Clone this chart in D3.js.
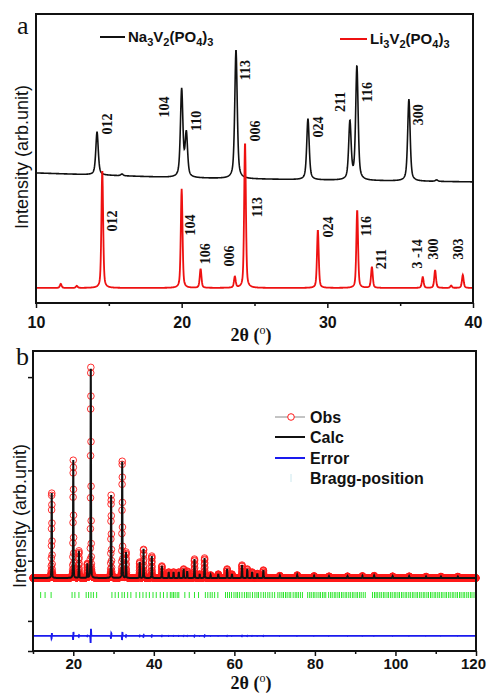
<!DOCTYPE html>
<html>
<head>
<meta charset="utf-8">
<script src="https://cdn.jsdelivr.net/npm/d3@7/dist/d3.min.js"></script>
<style>
body { margin: 0; background: #fff; }
svg { font-family: "Liberation Sans", Arial, sans-serif; }
</style>
</head>
<body>
<div id="chart"></div>
<script>
// ---- panel a : XRD patterns ----
var naPos = [14.19, 15.9, 20.0, 20.32, 23.73, 28.67, 31.55, 32.03, 35.6, 37.5];
var naInt = [149, 6, 304, 150, 446, 211, 200, 394, 284, 5];
var naBgPos = [10, 20, 30, 40];
var naBg = [450, 433, 425, 419];

var liPos = [11.7, 12.8, 14.55, 20.0, 21.3, 23.65, 24.35, 29.35, 32.05, 33.06, 36.55, 37.4, 38.5, 39.3];
var liInt = [14, 7, 408, 343, 66, 38, 505, 201, 270, 73, 38, 62, 8, 45];
var liBg = 52;

var naLabels = ["012", "104", "110", "113", "006", "024", "211", "116", "300"];
var naLabelX = [14.87, 18.79, 20.98, 24.34, 25.03, 29.35, 30.86, 32.72, 36.22];
var naLabelY = [619, 678, 630, 806, 595, 609, 696, 730, 651];

var liLabels = ["012", "104", "106", "006", "113", "024", "116", "211", "3 -14", "300", "303"];
var liLabelX = [15.22, 20.57, 21.6, 23.25, 25.17, 30.04, 32.65, 33.68, 36.15, 37.25, 38.96];
var liLabelY = [284, 270, 170, 163, 332, 263, 266, 152, 170, 187, 187];

// ---- panel b : Rietveld refinement ----
var refPos = [14.65, 20.0, 21.4, 23.5, 24.35, 29.4, 32.15, 33.1, 36.5, 37.45, 39.5, 42.0, 43.7, 44.9,
  46.2, 47.4, 48.3, 50.1, 51.4, 52.6, 54.1, 56.0, 58.2, 59.4, 61.9, 63.2, 64.4, 65.7, 67.2, 71.3,
  75.6, 79.8, 83.5, 88.1, 91.8, 94.7, 99.3, 103.4, 107.6, 111.3, 115.5];
var refInt = [2850, 3920, 900, 470, 7075, 2755, 3920, 860, 530, 960, 730, 400, 200, 200,
  200, 300, 230, 630, 130, 665, 100, 130, 300, 130, 430, 300, 200, 150, 265, 80,
  100, 70, 60, 60, 70, 80, 60, 60, 50, 50, 50];
var refBg = 1425;
var errBase = -500;

var braggPos = [11.9, 13.0, 14.5, 19.7, 20.4, 21.4, 23.2, 23.8, 24.4, 25.0, 25.8, 29.6, 30.4, 31.2,
  32.1, 32.7, 33.5, 34.3, 35.6, 36.5, 37.3, 38.1, 38.9, 39.8, 40.6, 41.6, 42.4, 43.3, 44.1, 44.5,
  44.9, 45.3, 45.8, 46.2, 47.7, 48.8, 50.1, 51.1, 52.8, 53.4, 54.0, 54.5, 55.1, 55.9, 57.8, 58.3,
  58.8, 59.3, 59.9, 60.4, 60.8, 61.3, 61.9, 62.5, 63.0, 63.4, 63.9, 64.5, 65.1, 65.6, 66.0, 66.6,
  67.2, 67.7, 68.3, 68.8, 69.4, 70.0, 70.8, 71.3, 71.8, 72.2, 72.7, 73.1, 73.6, 74.0, 74.6, 75.1,
  75.5, 75.9, 76.4, 76.9, 78.2, 78.7, 79.1, 79.6, 80.0, 80.5, 81.0, 81.4, 81.9, 82.3, 82.7, 83.4,
  83.9, 84.3, 84.8, 85.2, 85.7, 86.1, 86.6, 87.0, 87.5, 87.9, 88.4, 88.8, 89.3, 89.7, 90.2, 90.6,
  91.1, 91.5, 92.0, 92.5, 94.3, 94.8, 95.2, 95.6, 96.1, 96.5, 97.0, 97.4, 97.9, 98.3, 98.8, 99.2,
  99.7, 100.1, 100.6, 101.0, 101.5, 101.9, 102.4, 102.8, 103.3, 103.7, 104.2, 104.6, 105.1, 105.5,
  106.0, 106.4, 106.9, 107.3, 107.8, 108.2, 108.7, 109.1, 109.6, 110.0, 110.5, 110.9, 111.4, 111.8,
  112.3, 112.7, 113.2, 113.6, 114.1, 114.5, 115.0, 115.4, 115.9, 116.3, 116.8, 117.2, 117.7, 118.1,
  118.6, 119.0, 119.5, 119.9];
var braggLow = 760, braggHigh = 960;

var yTicksB = [-1000, 0, 2000, 3000, 5000, 8100];

var svgWidth = 487;
var svgHeight = 694;
var serif = "'Liberation Serif', 'Times New Roman', serif";

var svg = d3.select("#chart")
  .append("svg")
  .attr("width", svgWidth)
  .attr("height", svgHeight);

// pseudo-Voigt peak of unit height
function pv(dx, fwhm, eta) {
  var g = Math.exp(-4 * Math.LN2 * dx * dx / (fwhm * fwhm));
  var l = 1 / (1 + 4 * dx * dx / (fwhm * fwhm));
  return eta * l + (1 - eta) * g;
}

function profile(grid, pos, ints, bg, fwhm, eta, shift) {
  return grid.map(function(x) {
    var y = typeof bg === "function" ? bg(x) : bg;
    pos.forEach(function(p, i) {
      y += ints[i] * pv(x - p - shift, fwhm, eta);
    });
    return [x, y];
  });
}

function subLabel(sel, parts) {
  // parts: [text, isSub]
  parts.forEach(function(p, i) {
    var prev = i > 0 && parts[i - 1][1];
    var t = sel.append("tspan").text(p[0]);
    if (p[1]) t.attr("font-size", "11px").attr("dy", prev ? 0 : 4);
    else if (prev) t.attr("dy", -4);
  });
}

function xTitle(y) {
  var t = svg.append("text")
    .attr("x", 251)
    .attr("y", y)
    .attr("text-anchor", "middle")
    .attr("font-family", serif)
    .attr("font-weight", "bold")
    .attr("font-size", "18px")
    .attr("fill", "#111");
  t.append("tspan").text("2θ (");
  t.append("tspan").text("o").attr("font-size", "12px").attr("font-weight", "normal").attr("dy", -7);
  t.append("tspan").text(")").attr("dy", 7);
}

function yTitle(x, y) {
  svg.append("text")
    .attr("transform", `translate(${x}, ${y}) rotate(-90)`)
    .attr("text-anchor", "middle")
    .attr("dy", "0.35em")
    .attr("font-size", "18px")
    .attr("fill", "#111")
    .text("Intensity (arb.unit)");
}

// ================= panel a =================
var xA = d3.scaleLinear().domain([10, 40]).range([36, 473]);
var yA = d3.scaleLinear().domain([0, 1000]).range([303, 14]);

var gridA = d3.range(10, 40.001, 0.02);
var naBgScale = d3.scaleLinear().domain(naBgPos).range(naBg);
var naLine = profile(gridA, naPos, naInt, naBgScale, 0.2, 0.55, 0);
var liLine = profile(gridA, liPos, liInt, liBg, 0.14, 0.45, 0);

var lineA = d3.line().x(d => xA(d[0])).y(d => yA(d[1]));

svg.append("path")
  .datum(naLine)
  .attr("d", lineA)
  .attr("fill", "none")
  .attr("stroke", "#111")
  .attr("stroke-width", 1.6);

svg.append("path")
  .datum(liLine)
  .attr("d", lineA)
  .attr("fill", "none")
  .attr("stroke", "#ee1111")
  .attr("stroke-width", 1.8);

var allLabels = naLabels.map((s, i) => [s, naLabelX[i], naLabelY[i]])
  .concat(liLabels.map((s, i) => [s, liLabelX[i], liLabelY[i]]));

svg.selectAll("text.hkl")
  .data(allLabels)
  .enter()
  .append("text")
  .attr("class", "hkl")
  .attr("transform", d => `translate(${xA(d[1])}, ${yA(d[2])}) rotate(-90)`)
  .attr("text-anchor", "middle")
  .attr("dy", "0.35em")
  .attr("font-family", serif)
  .attr("font-weight", "bold")
  .attr("font-size", "14px")
  .attr("fill", "#111")
  .text(d => d[0]);

// axes a
var axisA = svg.append("g").attr("transform", `translate(0, ${yA(0)})`);
axisA.call(d3.axisBottom(xA).tickValues([10, 20, 30, 40]).tickSize(5).tickSizeOuter(0).tickFormat(d3.format("d")));
axisA.append("g").call(d3.axisBottom(xA).tickValues([15, 25, 35]).tickSize(3).tickFormat(""));
axisA.selectAll("text")
  .attr("font-family", "'Liberation Sans', Arial, sans-serif")
  .attr("font-weight", "bold")
  .attr("font-size", "16px")
  .attr("fill", "#111")
  .attr("dy", "1.05em");
axisA.selectAll("line").attr("stroke", "#111").attr("stroke-width", 1.5);
axisA.selectAll(".domain").remove();

svg.append("rect")
  .attr("x", xA(10)).attr("y", yA(1000))
  .attr("width", xA(40) - xA(10)).attr("height", yA(0) - yA(1000))
  .attr("fill", "none").attr("stroke", "#111").attr("stroke-width", 2);

xTitle(341);
yTitle(22, 157);

svg.append("text")
  .attr("x", 17).attr("y", 34)
  .attr("font-family", serif)
  .attr("font-size", "26px")
  .attr("fill", "#111")
  .text("a");

// legend a
svg.append("line").attr("x1", 100).attr("x2", 125).attr("y1", 37).attr("y2", 37)
  .attr("stroke", "#111").attr("stroke-width", 2);
var naText = svg.append("text").attr("x", 128).attr("y", 42)
  .attr("font-weight", "bold").attr("font-size", "15px").attr("fill", "#111");
subLabel(naText, [["Na", 0], ["3", 1], ["V", 0], ["2", 1], ["(PO", 0], ["4", 1], [")", 0], ["3", 1]]);

svg.append("line").attr("x1", 340).attr("x2", 367).attr("y1", 39).attr("y2", 39)
  .attr("stroke", "#ee1111").attr("stroke-width", 2);
var liText = svg.append("text").attr("x", 370).attr("y", 44)
  .attr("font-weight", "bold").attr("font-size", "15px").attr("fill", "#111");
subLabel(liText, [["Li", 0], ["3", 1], ["V", 0], ["2", 1], ["(PO", 0], ["4", 1], [")", 0], ["3", 1]]);

// ================= panel b =================
var xB = d3.scaleLinear().domain([10, 120]).range([33, 476]);
var yB = d3.scaleLinear().domain([-1000, 8967]).range([651, 351]);

var gridB = d3.range(10, 120.001, 0.02);
var obs = profile(gridB, refPos, refInt, refBg, 0.12, 0.4, 0.003);
var calc = profile(gridB, refPos, refInt, refBg, 0.12, 0.4, 0);
var diff = obs.map((d, i) => [d[0], errBase + (d[1] - calc[i][1])]);

var lineB = d3.line().x(d => xB(d[0])).y(d => yB(d[1]));

svg.append("g")
  .selectAll("circle")
  .data(obs)
  .enter()
  .append("circle")
  .attr("cx", d => xB(d[0]))
  .attr("cy", d => yB(d[1]))
  .attr("r", 3.3)
  .attr("fill", "none")
  .attr("stroke", "#ff1a1a")
  .attr("stroke-width", 0.9);

svg.append("path")
  .datum(calc)
  .attr("d", lineB)
  .attr("fill", "none")
  .attr("stroke", "#111")
  .attr("stroke-width", 2);

svg.append("path")
  .datum(diff)
  .attr("d", lineB)
  .attr("fill", "none")
  .attr("stroke", "#1a1aee")
  .attr("stroke-width", 1.8);

svg.append("g")
  .selectAll("line")
  .data(braggPos)
  .enter()
  .append("line")
  .attr("x1", d => xB(d)).attr("x2", d => xB(d))
  .attr("y1", yB(braggLow)).attr("y2", yB(braggHigh))
  .attr("stroke", "#2ee62e")
  .attr("stroke-width", 1);

// axes b
var axisB = svg.append("g").attr("transform", `translate(0, ${yB(-1000)})`);
axisB.call(d3.axisBottom(xB).tickValues([20, 40, 60, 80, 100, 120]).tickSize(5).tickSizeOuter(0).tickFormat(d3.format("d")));
axisB.append("g").call(d3.axisBottom(xB).tickValues([10, 30, 50, 70, 90, 110]).tickSize(3).tickFormat(""));
axisB.selectAll("text")
  .attr("font-family", "'Liberation Sans', Arial, sans-serif")
  .attr("font-weight", "bold")
  .attr("font-size", "15px")
  .attr("fill", "#111")
  .attr("dy", "0.68em");
axisB.selectAll("text").filter(d => d === 120).attr("dx", -3);
axisB.selectAll("line").attr("stroke", "#111").attr("stroke-width", 1.5);
axisB.selectAll(".domain").remove();

var leftB = svg.append("g").attr("transform", `translate(${xB(10)}, 0)`);
leftB.call(d3.axisLeft(yB).tickValues(yTicksB).tickSize(5).tickSizeOuter(0).tickFormat(""));
leftB.selectAll("line").attr("stroke", "#111").attr("stroke-width", 1.5);
leftB.selectAll(".domain").remove();

svg.append("rect")
  .attr("x", xB(10)).attr("y", yB(8967))
  .attr("width", xB(120) - xB(10)).attr("height", yB(-1000) - yB(8967))
  .attr("fill", "none").attr("stroke", "#111").attr("stroke-width", 2);

xTitle(689);
yTitle(20, 516);

svg.append("text")
  .attr("x", 16).attr("y", 365)
  .attr("font-family", serif)
  .attr("font-size", "26px")
  .attr("fill", "#111")
  .text("b");

// legend b
var legend = svg.append("g");
var legItems = ["Obs", "Calc", "Error", "Bragg-position"];
var legY = [417, 437, 458, 478];

legend.append("line").attr("x1", 275).attr("x2", 305).attr("y1", legY[0]).attr("y2", legY[0])
  .attr("stroke", "#888").attr("stroke-width", 1);
legend.append("circle").attr("cx", 291).attr("cy", legY[0]).attr("r", 3.3)
  .attr("fill", "#fff").attr("stroke", "#ff1a1a").attr("stroke-width", 1);
legend.append("line").attr("x1", 275).attr("x2", 305).attr("y1", legY[1]).attr("y2", legY[1])
  .attr("stroke", "#111").attr("stroke-width", 2);
legend.append("line").attr("x1", 275).attr("x2", 305).attr("y1", legY[2]).attr("y2", legY[2])
  .attr("stroke", "#1a1aee").attr("stroke-width", 2);
legend.append("line").attr("x1", 291).attr("x2", 291).attr("y1", legY[3] - 4).attr("y2", legY[3] + 4)
  .attr("stroke", "#cce8ee").attr("stroke-width", 1);

legend.selectAll("text")
  .data(legItems)
  .enter()
  .append("text")
  .attr("x", 310)
  .attr("y", (d, i) => legY[i])
  .attr("dy", "0.36em")
  .attr("font-weight", "bold")
  .attr("font-size", "16px")
  .attr("fill", "#111")
  .text(d => d);
</script>
</body>
</html>
